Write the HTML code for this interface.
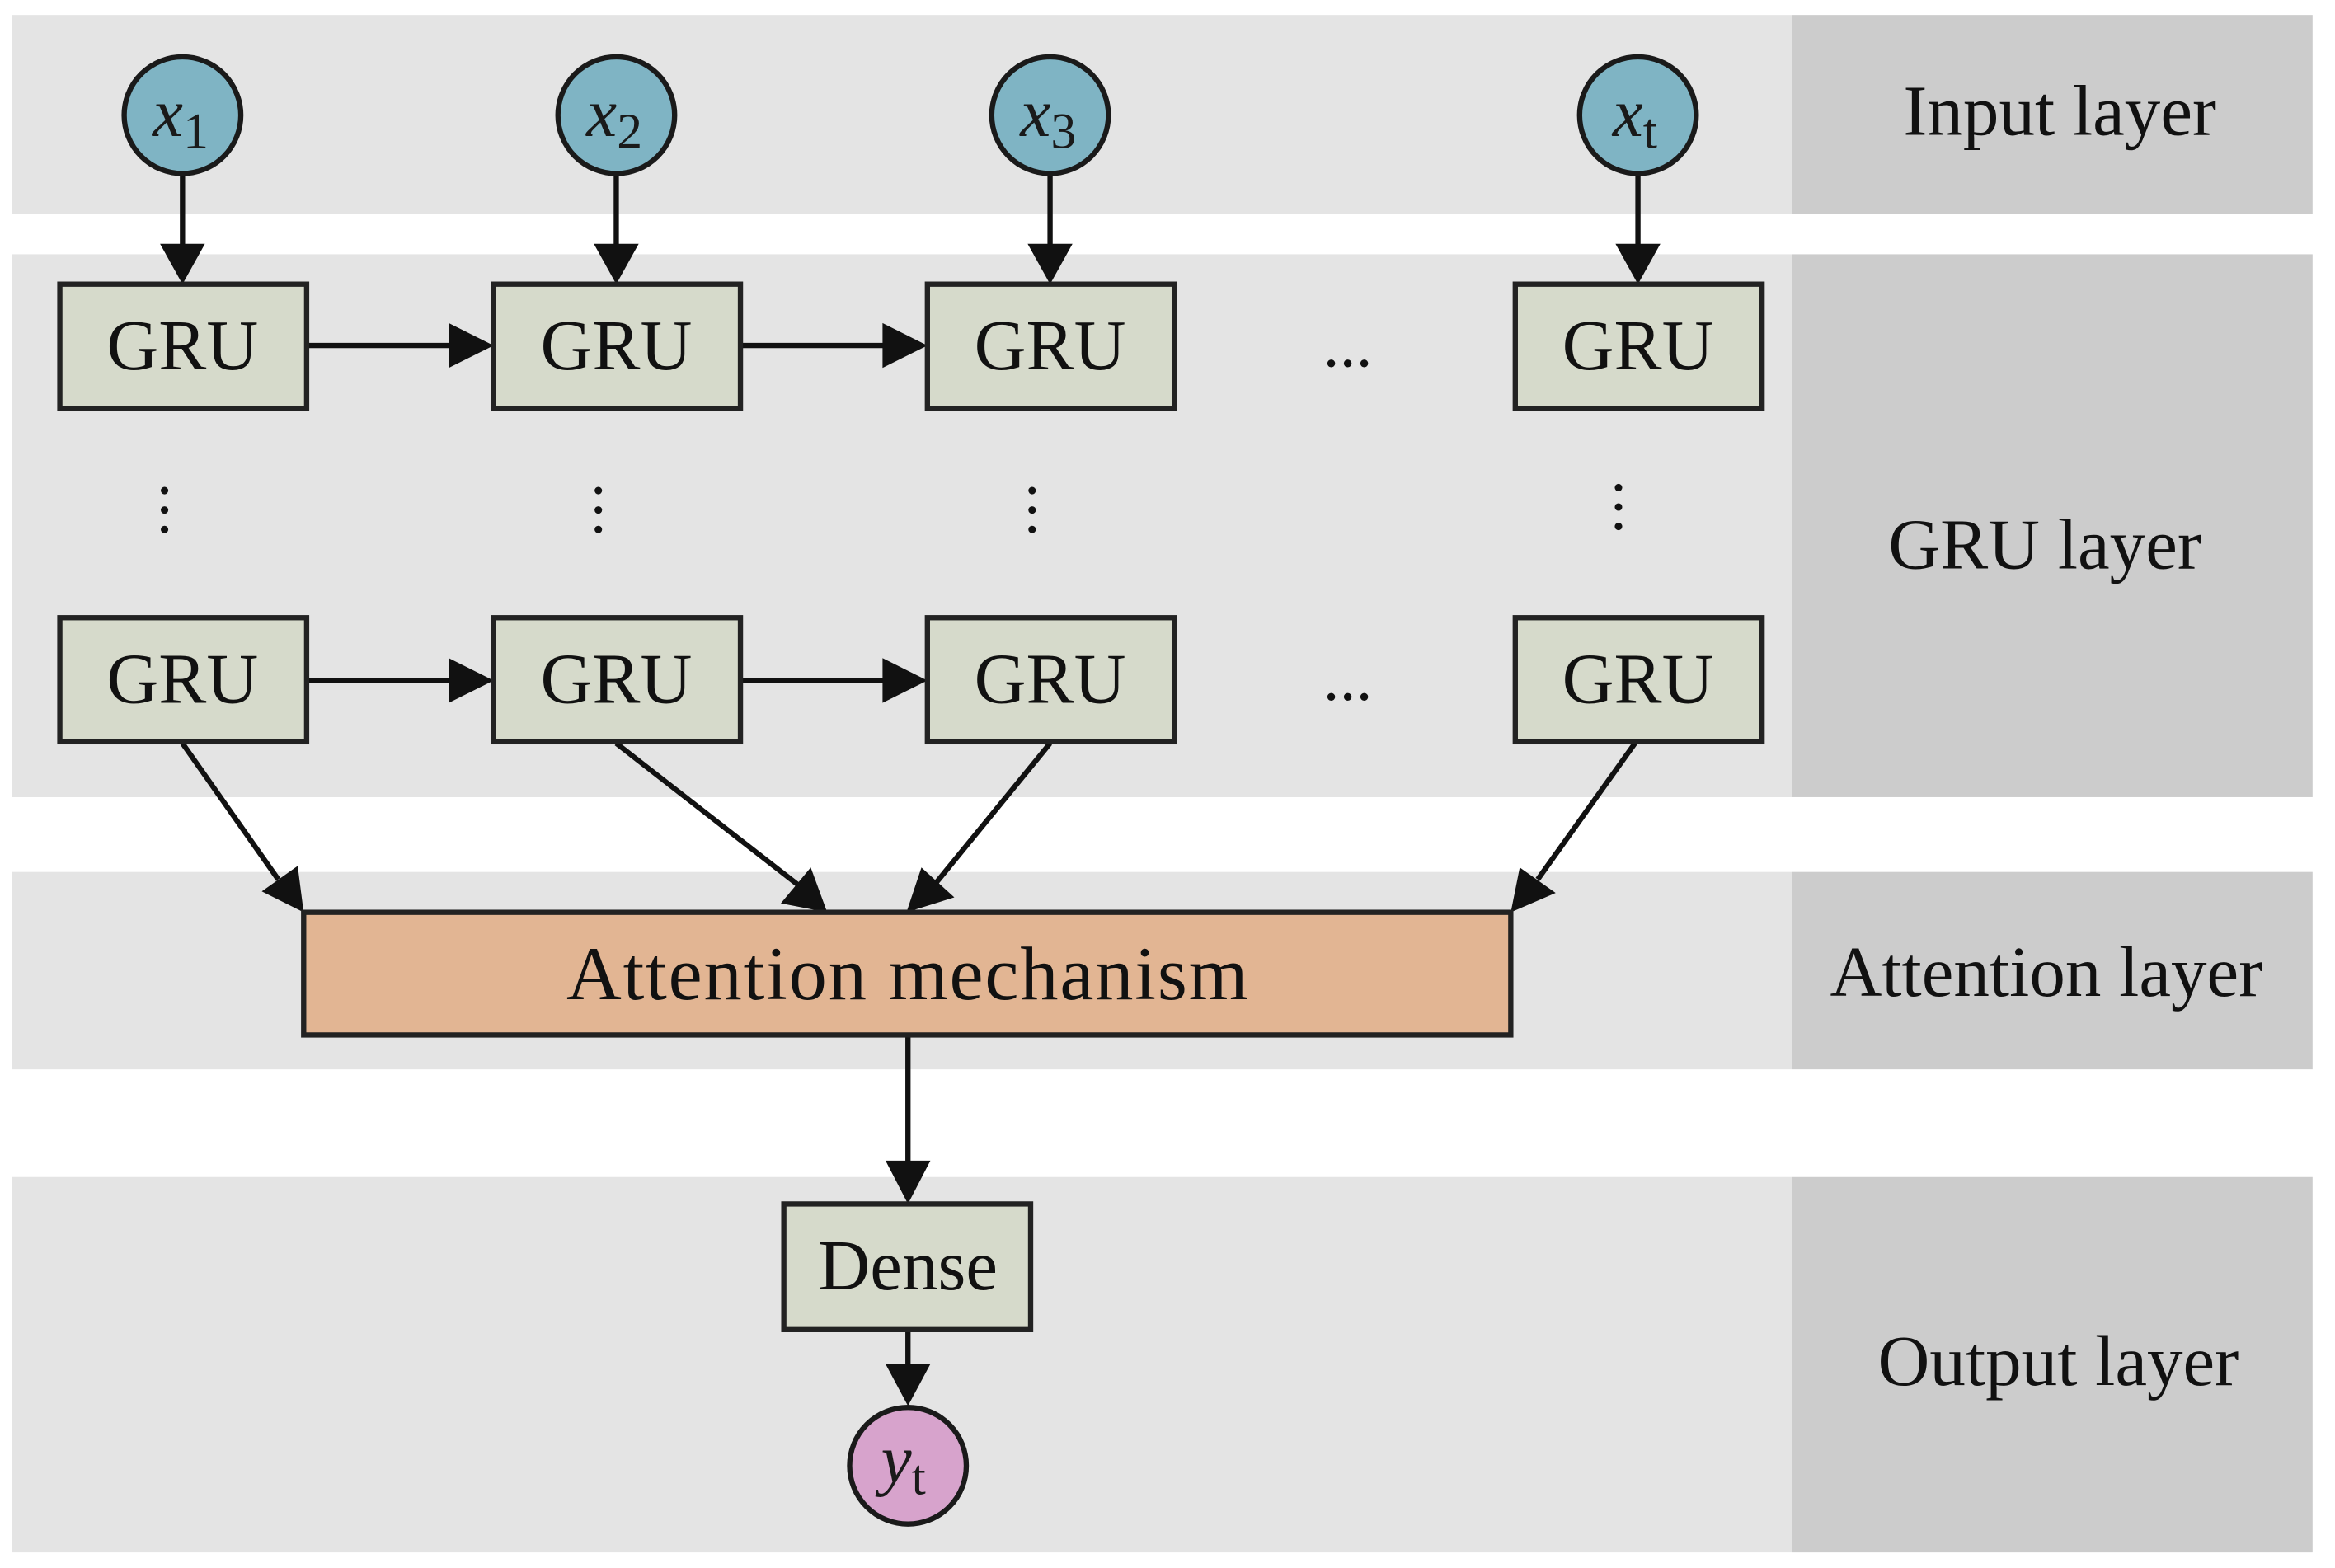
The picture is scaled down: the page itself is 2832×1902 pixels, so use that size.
<!DOCTYPE html>
<html><head><style>html,body{margin:0;padding:0;background:#fff}svg{display:block}</style></head>
<body>
<svg width="2832" height="1902" viewBox="0 0 1561 1048.4" preserveAspectRatio="none" xmlns="http://www.w3.org/2000/svg" font-family="Liberation Serif, serif">
<g fill="#e4e4e4">
<rect x="8" y="10" width="1190" height="133"/>
<rect x="8" y="170" width="1190" height="363"/>
<rect x="8" y="583" width="1190" height="132"/>
<rect x="8" y="787" width="1190" height="251"/>
</g>
<g fill="#cccccc">
<rect x="1198" y="10" width="348" height="133"/>
<rect x="1198" y="170" width="348" height="363"/>
<rect x="1198" y="583" width="348" height="132"/>
<rect x="1198" y="787" width="348" height="251"/>
</g>
<g font-size="48" text-anchor="middle" fill="#111">
<text x="1377" y="90">Input layer</text>
<text x="1367" y="380">GRU layer</text>
<text x="1368" y="666">Attention layer</text>
<text x="1376" y="926">Output layer</text>
</g>
<g stroke="#111" stroke-width="3.5" fill="none">
<line x1="122" y1="116" x2="122" y2="168"/><line x1="412" y1="116" x2="412" y2="168"/>
<line x1="702" y1="116" x2="702" y2="168"/><line x1="1095" y1="116" x2="1095" y2="168"/>
<line x1="205" y1="231" x2="305" y2="231"/><line x1="495" y1="231" x2="595" y2="231"/>
<line x1="205" y1="455" x2="305" y2="455"/><line x1="495" y1="455" x2="595" y2="455"/>
<line x1="122" y1="497" x2="186" y2="588"/><line x1="412" y1="497" x2="534" y2="592"/>
<line x1="702" y1="497" x2="626" y2="590"/><line x1="1093" y1="497" x2="1028" y2="588"/>
<line x1="607" y1="692" x2="607" y2="780"/><line x1="607" y1="889" x2="607" y2="918"/>
</g>
<g fill="#111">
<polygon points="107,163 137,163 122,190"/><polygon points="397,163 427,163 412,190"/>
<polygon points="687,163 717,163 702,190"/><polygon points="1080,163 1110,163 1095,190"/>
<polygon points="300,216 300,246 330,231"/><polygon points="590,216 590,246 620,231"/>
<polygon points="300,440 300,470 330,455"/><polygon points="590,440 590,470 620,455"/>
<polygon points="175,596 199,579 203,610"/>
<polygon points="522,604 542,580 553,610"/>
<polygon points="606,610 616,580 638,600"/>
<polygon points="1010,610 1016,580 1040,597"/>
<polygon points="592,776 622,776 607,805"/>
<polygon points="592,912 622,912 607,940"/>
</g>
<g fill="#d6dacb" stroke="#222" stroke-width="3.5">
<rect x="40" y="190" width="165" height="83"/><rect x="330" y="190" width="165" height="83"/>
<rect x="620" y="190" width="165" height="83"/><rect x="1013" y="190" width="165" height="83"/>
<rect x="40" y="413" width="165" height="83"/><rect x="330" y="413" width="165" height="83"/>
<rect x="620" y="413" width="165" height="83"/><rect x="1013" y="413" width="165" height="83"/>
<rect x="524" y="805" width="165" height="84"/>
</g>
<rect x="203" y="610" width="807" height="82" fill="#e2b593" stroke="#222" stroke-width="3.5"/>
<g font-size="48" text-anchor="middle" fill="#111">
<text x="122" y="247">GRU</text><text x="412" y="247">GRU</text><text x="702" y="247">GRU</text><text x="1095" y="247">GRU</text>
<text x="122" y="470">GRU</text><text x="412" y="470">GRU</text><text x="702" y="470">GRU</text><text x="1095" y="470">GRU</text>
<text x="607" y="862">Dense</text>
<text x="607" y="668" font-size="51" letter-spacing="1">Attention mechanism</text>
<text x="901" y="245" font-size="44">...</text><text x="901" y="468" font-size="44">...</text>
</g>
<g fill="#111">
<circle cx="110" cy="328" r="2.5"/><circle cx="110" cy="341" r="2.5"/><circle cx="110" cy="354" r="2.5"/>
<circle cx="400" cy="328" r="2.5"/><circle cx="400" cy="341" r="2.5"/><circle cx="400" cy="354" r="2.5"/>
<circle cx="690" cy="328" r="2.5"/><circle cx="690" cy="341" r="2.5"/><circle cx="690" cy="354" r="2.5"/>
<circle cx="1082" cy="326" r="2.5"/><circle cx="1082" cy="339" r="2.5"/><circle cx="1082" cy="352" r="2.5"/>
</g>
<g fill="#7fb4c4" stroke="#1a1a1a" stroke-width="3.5">
<circle cx="122" cy="77" r="39"/><circle cx="412" cy="77" r="39"/>
<circle cx="702" cy="77" r="39"/><circle cx="1095" cy="77" r="39"/>
</g>
<circle cx="607" cy="980" r="39" fill="#d7a3cc" stroke="#1a1a1a" stroke-width="3.5"/>
<g font-size="46" fill="#1a1a1a" font-style="italic">
<text x="102" y="91">x<tspan font-style="normal" font-size="34" dy="8">1</tspan></text>
<text x="392" y="91">x<tspan font-style="normal" font-size="34" dy="8">2</tspan></text>
<text x="682" y="91">x<tspan font-style="normal" font-size="34" dy="8">3</tspan></text>
<text x="1078" y="91">x<tspan font-style="normal" font-size="34" dy="8">t</tspan></text>
<text x="589" y="991">y<tspan font-style="normal" font-size="34" dy="8">t</tspan></text>
</g>
</svg>
</body></html>
